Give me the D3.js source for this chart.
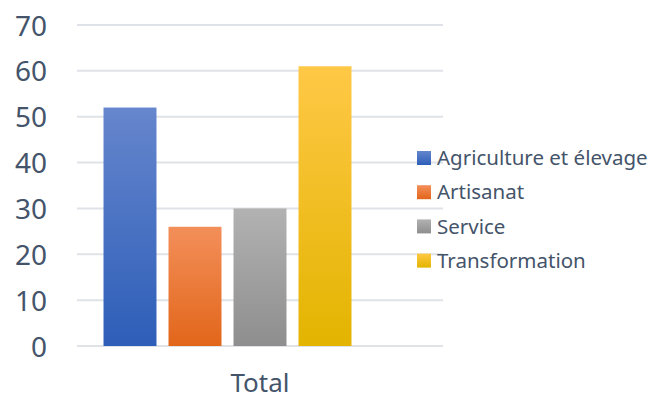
<!DOCTYPE html>
<html>
<head>
<meta charset="utf-8">
<script src="https://cdn.jsdelivr.net/npm/d3@7"></script>
<style>
  body { margin: 0; background: #fff; }
  text { font-family: "Noto Sans", "Open Sans", sans-serif; fill: #44546a; }
</style>
</head>
<body>
<div id="chart"></div>
<script>
// chart data
var categories = ["Total"];
var series = ["Agriculture et élevage", "Artisanat", "Service", "Transformation"];
var values = [52, 26, 30, 61];
var yTicks = [0, 10, 20, 30, 40, 50, 60, 70];
// gradient colours (top, bottom) for each series
var colorsTop = ["#6686cd", "#f38f5a", "#b2b2b2", "#ffc846"];
var colorsBottom = ["#2d5eb8", "#e2661a", "#8e8e8e", "#e3b400"];

var width = 665, height = 400;
var svg = d3.select("#chart").append("svg")
    .attr("width", width)
    .attr("height", height);

var defs = svg.append("defs");
series.forEach(function (s, i) {
    var g = defs.append("linearGradient")
        .attr("id", "grad" + i)
        .attr("x1", 0).attr("y1", 0)
        .attr("x2", 0).attr("y2", 1);
    g.append("stop").attr("offset", "0%").attr("stop-color", colorsTop[i]);
    g.append("stop").attr("offset", "100%").attr("stop-color", colorsBottom[i]);
});

// plot area edges
var plotLeft = 77, plotRight = 443, plotTop = 25, plotBottom = 346;

// Y scale
var y = d3.scaleLinear().domain([0, 70]).range([plotBottom, plotTop]);

// gridlines
svg.append("g")
    .selectAll("line")
    .data(yTicks)
    .enter()
    .append("line")
    .attr("x1", plotLeft)
    .attr("x2", plotRight)
    .attr("y1", function (d) { return y(d); })
    .attr("y2", function (d) { return y(d); })
    .attr("stroke", "#dfe2e7")
    .attr("stroke-width", 2);

// Y axis labels
var yAxis = svg.append("g")
    .attr("transform", "translate(" + (plotLeft - 30) + ",0)")
    .call(d3.axisLeft(y).tickValues(yTicks).tickSize(0).tickPadding(0));
yAxis.select(".domain").remove();
yAxis.selectAll("text")
    .attr("dy", "0.36em")
    .style("font-family", "\"Noto Sans\", sans-serif")
    .style("font-size", "28px")
    .attr("fill", "#44546a");

// X scales: one category, five slots (the last one is empty in the source chart)
var x0 = d3.scaleBand()
    .domain(categories)
    .range([plotLeft, plotRight])
    .paddingInner(0)
    .paddingOuter(0.0847);

var x1 = d3.scaleBand()
    .domain(d3.range(5))
    .range([0, x0.bandwidth()])
    .paddingInner(0.185)
    .paddingOuter(0);

// bars
svg.append("g")
    .selectAll("rect")
    .data(values)
    .enter()
    .append("rect")
    .attr("x", function (d, i) { return x0(categories[0]) + x1(i); })
    .attr("y", function (d) { return y(d); })
    .attr("width", x1.bandwidth())
    .attr("height", function (d) { return y(0) - y(d); })
    .attr("fill", function (d, i) { return "url(#grad" + i + ")"; });

// X axis label
var xAxis = svg.append("g")
    .attr("transform", "translate(0," + plotBottom + ")")
    .call(d3.axisBottom(x0).tickSize(0).tickPadding(0));
xAxis.select(".domain").remove();
xAxis.selectAll("text")
    .attr("y", 46)
    .attr("dy", 0)
    .style("font-family", "\"Noto Sans\", sans-serif")
    .style("font-size", "26px")
    .attr("fill", "#44546a");

// legend
var legend = svg.append("g")
    .attr("transform", "translate(417,158)");

var items = legend.selectAll("g")
    .data(series)
    .enter()
    .append("g")
    .attr("transform", function (d, i) { return "translate(0," + (i * 34.2) + ")"; });

items.append("rect")
    .attr("x", 0)
    .attr("y", -7)
    .attr("width", 14)
    .attr("height", 14)
    .attr("fill", function (d, i) { return "url(#grad" + i + ")"; });

items.append("text")
    .attr("x", 20)
    .attr("y", 0)
    .attr("dy", "0.35em")
    .style("font-size", "20.5px")
    .text(function (d) { return d; });
</script>
</body>
</html>
